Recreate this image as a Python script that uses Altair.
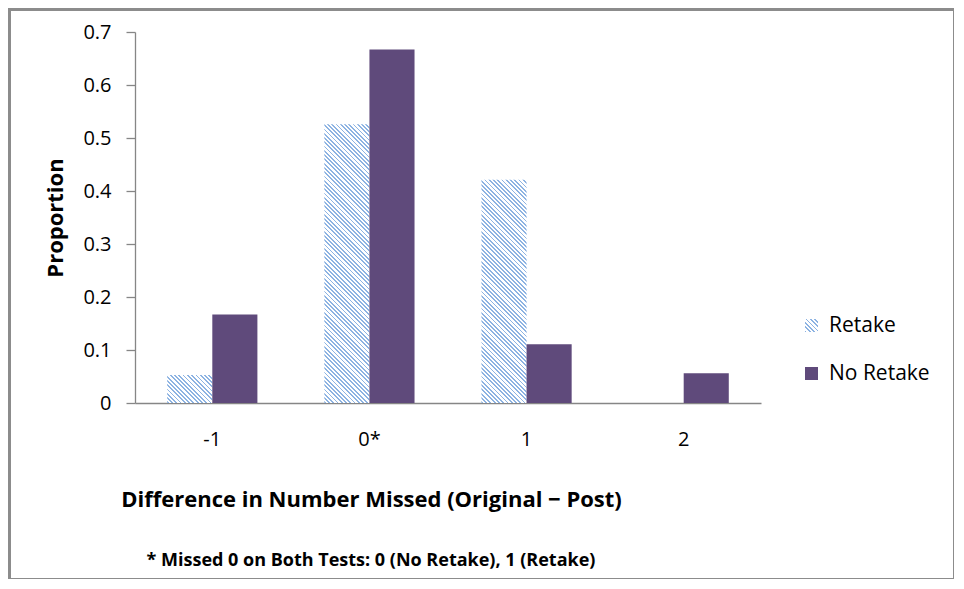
import math
import altair as alt
import pandas as pd

# ---- data ----
categories = ["-1", "0*", "1", "2"]
series_names = ["Retake", "No Retake"]
retake = [0.0526, 0.526, 0.421, 0.0]
no_retake = [0.167, 0.667, 0.111, 0.056]
y_ticks = [0, 0.1, 0.2, 0.3, 0.4, 0.5, 0.6, 0.7]
footnote = "* Missed 0 on Both Tests: 0 (No Retake), 1 (Retake)"
x_title = "Difference in Number Missed (Original \u2212 Post)"
y_title = "Proportion"

# ---- style ----
FONT = "Open Sans"
PURPLE = "#5f4a7b"
HATCH = "#8db3e2"
GRAY = "#868686"
W, H = 626, 371
Y_MAX = 0.7
P_INNER, P_OUTER = 0.426, 0.205
PERIOD = 3.0
DUTY = 0.42


def stripe_stops(n):
    stops = []
    for k in range(n):
        a, b, e = k / n, (k + DUTY) / n, (k + 1) / n
        stops += [
            {"offset": a, "color": HATCH},
            {"offset": b, "color": HATCH},
            {"offset": b, "color": "#ffffff"},
            {"offset": e, "color": "#ffffff"},
        ]
    return stops


def hatch_gradient(w, h):
    s = (w + h) / (w * w + h * h)
    n = max(2, int(round((w + h) / (math.sqrt(2) * PERIOD))))
    return {"gradient": "linear", "x1": 0, "y1": 1, "x2": s * w, "y2": 1 - s * h,
            "stops": stripe_stops(n)}


rows = []
for c, r, n in zip(categories, retake, no_retake):
    rows.append({"cat": c, "series": "Retake", "value": r})
    rows.append({"cat": c, "series": "No Retake", "value": n})
df = pd.DataFrame(rows)

# diagonal hatch for the Retake bars, emulated with striped linear gradients
step = W / (len(categories) - P_INNER + 2 * P_OUTER)
bar_w = step * (1 - P_INNER) / 2
conds = []
for c, r in zip(categories, retake):
    if r <= 0:
        continue
    conds.append({"test": f"datum.cat == '{c}' && datum.series == 'Retake'",
                  "value": hatch_gradient(bar_w, r / Y_MAX * H)})

# hatched swatch for the legend symbol (13x13 square)
sw = hatch_gradient(13, 13)
stops_expr = ",".join("{offset:%.5f,color:'%s'}" % (st["offset"], st["color"]) for st in sw["stops"])
legend_grad_expr = ("{gradient:'linear',x1:0,y1:1,x2:%.5f,y2:%.5f,stops:[%s]}"
                    % (sw["x2"], sw["y2"], stops_expr))

bars = alt.Chart(df).mark_bar().encode(
    x=alt.X("cat:N", sort=categories,
            scale=alt.Scale(paddingInner=P_INNER, paddingOuter=P_OUTER),
            axis=alt.Axis(title=x_title, labelAngle=0, ticks=False, labelPadding=26,
                          titleX=236, titleY=96, titleAlign="center", titleBaseline="middle",
                          titleFontWeight="bold", titleFontSize=22)),
    xOffset=alt.XOffset("series:N", sort=series_names, scale=alt.Scale(domain=series_names)),
    y=alt.Y("value:Q", scale=alt.Scale(domain=[0, Y_MAX], nice=False),
            axis=alt.Axis(title=y_title, values=y_ticks, format=".1~f", grid=False,
                          tickSize=9, labelPadding=15,
                          titleAngle=270, titleX=-80, titleY=H / 2, titleAlign="center",
                          titleBaseline="middle", titleFontWeight="bold", titleFontSize=22)),
    fill=alt.Fill("series:N",
                  scale=alt.Scale(domain=series_names,
                                  range=[alt.ExprRef(expr=legend_grad_expr), PURPLE]),
                  legend=alt.Legend(title=None, orient="none", legendX=666, legendY=283,
                                    symbolType="square", symbolSize=169, symbolStrokeWidth=0,
                                    labelFontSize=21, labelOffset=7, rowPadding=26,
                                    labelColor="#000000"),
                  condition=conds),
)

note = alt.Chart(pd.DataFrame({"t": [footnote]})).mark_text(
    font=FONT, fontSize=18, fontWeight="bold", color="#000000", align="center", baseline="middle"
).encode(text="t:N", x=alt.value(236), y=alt.value(529))

frame = alt.Chart(pd.DataFrame({"f": [1]})).mark_rect(
    fill="transparent", stroke="#8c8c8c", strokeWidth=3
).encode(x=alt.value(-125.5), x2=alt.value(819.5), y=alt.value(-22.5), y2=alt.value(547.5))

chart = alt.layer(frame, bars, note).properties(
    width=W, height=H,
    autosize=alt.AutoSizeParams(type="none"),
    padding={"left": 127, "top": 24, "right": 948 - 127 - W - 2, "bottom": 573 - 24 - H - 2},
    background="white",
).configure_view(stroke=None).configure_axis(
    labelFont=FONT, titleFont=FONT, labelFontSize=20, labelColor="#000000", titleColor="#000000",
    domainColor=GRAY, tickColor=GRAY, domainWidth=1.3, tickWidth=1.3,
).configure_legend(labelFont=FONT)

chart.save("out.html", embed_options={"renderer": "svg", "actions": False})
